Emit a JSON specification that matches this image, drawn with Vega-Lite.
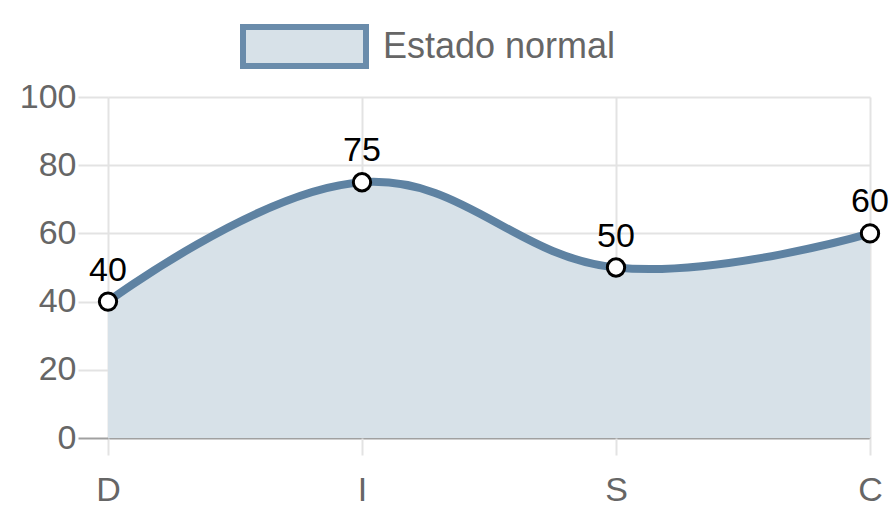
{
  "$schema": "https://vega.github.io/schema/vega-lite/v6.json",
  "width": 762,
  "height": 341,
  "autosize": {"type": "none"},
  "padding": {"left": 108, "top": 97, "right": 21, "bottom": 84},
  "background": "white",
  "data": {
    "values": [
      {"k": "D", "v": 40, "series": "Estado normal"},
      {"k": "I", "v": 75, "series": "Estado normal"},
      {"k": "S", "v": 50, "series": "Estado normal"},
      {"k": "C", "v": 60, "series": "Estado normal"}
    ]
  },
  "encoding": {
    "x": {
      "field": "k", "type": "nominal", "sort": null,
      "scale": {"type": "point", "padding": 0},
      "axis": {
        "title": null, "labelAngle": 0, "domain": false, "grid": true,
        "gridColor": "#e3e3e3", "gridWidth": 2,
        "tickColor": "#e3e3e3", "tickWidth": 2, "tickSize": 17,
        "labelPadding": 18, "labelFontSize": 34, "labelColor": "#666666",
        "labelFont": "Liberation Sans", "labelFontWeight": "normal"
      }
    },
    "y": {
      "field": "v", "type": "quantitative",
      "scale": {"domain": [0, 100], "nice": false, "zero": true},
      "axis": {
        "title": null, "values": [0, 20, 40, 60, 80, 100], "domain": false, "grid": true,
        "gridColor": {"condition": {"test": "datum.value === 0", "value": "#a0a0a0"}, "value": "#e3e3e3"},
        "gridWidth": 2,
        "tickColor": {"condition": {"test": "datum.value === 0", "value": "#a0a0a0"}, "value": "#e3e3e3"},
        "tickWidth": 2, "tickSize": 30,
        "labelPadding": 2, "labelFontSize": 34, "labelColor": "#666666",
        "labelFont": "Liberation Sans"
      }
    }
  },
  "layer": [
    {
      "mark": {"type": "area", "interpolate": "cardinal", "tension": -0.2, "opacity": 1},
      "encoding": {
        "color": {
          "field": "series", "type": "nominal",
          "scale": {"domain": ["Estado normal"], "range": ["#d7e1e8"]},
          "legend": {
            "title": null, "orient": "none", "legendX": 132, "legendY": -115,
            "symbolType": "M-1,-0.317L1,-0.317L1,0.317L-1,0.317Z",
            "symbolSize": 15129, "symbolStrokeWidth": 6, "symbolStrokeColor": "#6a8cab",
            "symbolFillColor": "#d7e1e8", "symbolOpacity": 1,
            "labelFontSize": 36, "labelColor": "#666666", "labelFont": "Liberation Sans",
            "labelOffset": 14, "labelLimit": 500,
            "encode": {"symbols": {"update": {"stroke": {"value": "#6a8cab"}, "strokeWidth": {"value": 6}, "fill": {"value": "#d7e1e8"}, "opacity": {"value": 1}}}}
          }
        }
      }
    },
    {
      "mark": {"type": "line", "interpolate": "cardinal", "tension": -0.2, "stroke": "#5e82a2", "strokeWidth": 8}
    },
    {
      "mark": {"type": "point", "filled": true, "fill": "white", "stroke": "black", "strokeWidth": 3, "size": 300, "opacity": 1}
    },
    {
      "mark": {"type": "text", "dy": -21, "baseline": "alphabetic", "align": "center", "fontSize": 34, "font": "Liberation Sans", "color": "black"},
      "encoding": {"text": {"field": "v", "type": "quantitative"}}
    }
  ],
  "config": {"view": {"stroke": null}}
}
